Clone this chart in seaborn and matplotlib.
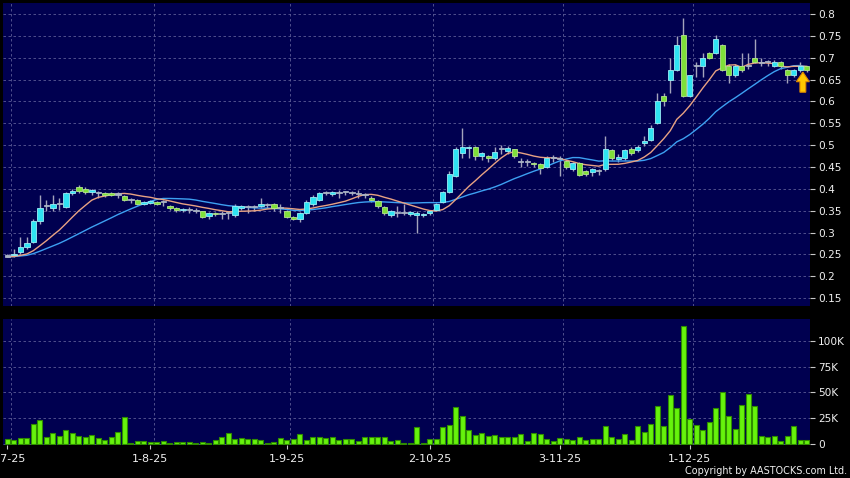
import numpy as np
import pandas as pd
import matplotlib
matplotlib.use("Agg")
import matplotlib.pyplot as plt
import seaborn as sns
from matplotlib.patches import FancyArrow

# ---------------- data ----------------
opens = [0.245, 0.248, 0.255, 0.267, 0.278, 0.326, 0.360, 0.356, 0.365, 0.358,
         0.390, 0.405, 0.400, 0.393, 0.390, 0.390, 0.390, 0.387, 0.383, 0.375,
         0.374, 0.366, 0.368, 0.370, 0.370, 0.360, 0.356, 0.352, 0.352, 0.350,
         0.349, 0.338, 0.345, 0.343, 0.345, 0.340, 0.357, 0.358, 0.358, 0.360,
         0.362, 0.365, 0.357, 0.350, 0.335, 0.331, 0.345, 0.365, 0.374, 0.390,
         0.388, 0.390, 0.392, 0.390, 0.388, 0.385, 0.380, 0.372, 0.358, 0.340,
         0.345, 0.345, 0.342, 0.340, 0.340, 0.345, 0.352, 0.370, 0.392, 0.430,
         0.482, 0.493, 0.495, 0.475, 0.475, 0.470, 0.490, 0.487, 0.490, 0.462,
         0.462, 0.458, 0.456, 0.450, 0.470, 0.468, 0.463, 0.445, 0.460, 0.440,
         0.438, 0.440, 0.445, 0.488, 0.468, 0.470, 0.490, 0.488, 0.505, 0.511,
         0.550, 0.612, 0.650, 0.672, 0.752, 0.612, 0.680, 0.680, 0.710, 0.710,
         0.730, 0.680, 0.660, 0.682, 0.680, 0.700, 0.688, 0.690, 0.680, 0.690,
         0.672, 0.660, 0.672, 0.680]
highs = [0.250, 0.262, 0.290, 0.290, 0.330, 0.386, 0.375, 0.385, 0.380, 0.393,
         0.400, 0.408, 0.405, 0.400, 0.395, 0.392, 0.392, 0.392, 0.385, 0.380,
         0.376, 0.372, 0.375, 0.372, 0.375, 0.362, 0.358, 0.357, 0.358, 0.356,
         0.350, 0.348, 0.347, 0.350, 0.350, 0.365, 0.362, 0.362, 0.362, 0.380,
         0.368, 0.367, 0.365, 0.352, 0.337, 0.347, 0.375, 0.385, 0.392, 0.395,
         0.395, 0.397, 0.395, 0.395, 0.397, 0.390, 0.383, 0.375, 0.360, 0.352,
         0.360, 0.365, 0.350, 0.350, 0.345, 0.352, 0.368, 0.395, 0.440, 0.495,
         0.540, 0.497, 0.497, 0.485, 0.478, 0.495, 0.500, 0.497, 0.492, 0.470,
         0.468, 0.462, 0.460, 0.475, 0.477, 0.475, 0.465, 0.462, 0.462, 0.442,
         0.448, 0.445, 0.520, 0.490, 0.480, 0.490, 0.495, 0.500, 0.520, 0.545,
         0.620, 0.620, 0.700, 0.750, 0.790, 0.660, 0.690, 0.710, 0.712, 0.752,
         0.732, 0.685, 0.685, 0.710, 0.710, 0.742, 0.700, 0.695, 0.695, 0.692,
         0.675, 0.675, 0.690, 0.682]
lows = [0.243, 0.245, 0.250, 0.262, 0.275, 0.320, 0.350, 0.350, 0.352, 0.355,
        0.385, 0.390, 0.388, 0.385, 0.380, 0.382, 0.384, 0.378, 0.372, 0.368,
        0.362, 0.362, 0.365, 0.362, 0.360, 0.352, 0.348, 0.348, 0.345, 0.344,
        0.333, 0.332, 0.338, 0.330, 0.330, 0.335, 0.352, 0.345, 0.350, 0.355,
        0.355, 0.350, 0.345, 0.333, 0.328, 0.325, 0.343, 0.360, 0.372, 0.385,
        0.383, 0.380, 0.385, 0.385, 0.380, 0.378, 0.370, 0.355, 0.340, 0.335,
        0.335, 0.340, 0.338, 0.300, 0.335, 0.340, 0.350, 0.368, 0.390, 0.428,
        0.470, 0.470, 0.465, 0.465, 0.462, 0.465, 0.480, 0.480, 0.470, 0.450,
        0.452, 0.450, 0.435, 0.448, 0.462, 0.430, 0.445, 0.440, 0.430, 0.430,
        0.430, 0.432, 0.440, 0.465, 0.462, 0.465, 0.478, 0.485, 0.498, 0.510,
        0.548, 0.590, 0.620, 0.670, 0.610, 0.610, 0.655, 0.655, 0.698, 0.708,
        0.670, 0.642, 0.655, 0.668, 0.675, 0.688, 0.680, 0.680, 0.678, 0.675,
        0.642, 0.655, 0.668, 0.668]
closes = [0.245, 0.250, 0.268, 0.276, 0.326, 0.356, 0.360, 0.365, 0.365, 0.390,
          0.395, 0.395, 0.392, 0.397, 0.390, 0.387, 0.387, 0.387, 0.375, 0.375,
          0.366, 0.370, 0.372, 0.365, 0.370, 0.356, 0.352, 0.354, 0.352, 0.350,
          0.336, 0.345, 0.342, 0.343, 0.345, 0.360, 0.360, 0.358, 0.358, 0.365,
          0.362, 0.356, 0.357, 0.336, 0.331, 0.345, 0.370, 0.381, 0.390, 0.390,
          0.392, 0.390, 0.392, 0.390, 0.388, 0.385, 0.375, 0.360, 0.345, 0.350,
          0.345, 0.345, 0.346, 0.345, 0.342, 0.350, 0.365, 0.392, 0.435, 0.490,
          0.495, 0.495, 0.475, 0.482, 0.470, 0.484, 0.490, 0.493, 0.475, 0.462,
          0.462, 0.456, 0.448, 0.470, 0.470, 0.468, 0.450, 0.460, 0.432, 0.435,
          0.445, 0.440, 0.490, 0.470, 0.472, 0.488, 0.482, 0.495, 0.510, 0.540,
          0.600, 0.600, 0.672, 0.730, 0.612, 0.660, 0.680, 0.700, 0.700, 0.743,
          0.672, 0.660, 0.680, 0.672, 0.680, 0.690, 0.688, 0.690, 0.690, 0.680,
          0.660, 0.672, 0.680, 0.672]
volumes_k = [4.5, 4, 6, 6, 19, 23, 6.5, 10.5, 7.5, 13.5,
             10.5, 8, 6.5, 8.5, 6, 4, 7, 11.5, 26, 1,
             2.5, 2.5, 1.5, 2, 2.5, 1, 2, 2, 2, 1,
             2, 1, 4, 7, 10.5, 5, 5.5, 4.5, 4.5, 4,
             1, 2, 6, 3.5, 4.5, 9.5, 4, 7, 7, 6,
             6.5, 4, 5, 5, 3, 6.5, 6.5, 7, 7, 2.5,
             4, 1, 1, 16, 1, 5, 4.5, 16, 18.5, 35.5,
             27, 13.5, 8.5, 11, 7.5, 8.5, 7, 7, 7, 9.5,
             3, 10.5, 9.5, 5, 2.5, 5.5, 5, 4, 7, 4,
             5, 5, 17, 7, 5, 9.5, 3.5, 17, 11.5, 19.5,
             37, 17, 47.5, 34.5, 115, 24.5, 18, 14, 21.5, 34.5,
             50, 27.5, 14.5, 37.5, 48.5, 36.5, 7.5, 6.5, 7.5, 2.5,
             7.5, 17.5, 4, 4]
# closes of the sessions just before the first visible day (estimated level)
pre_closes = [0.250, 0.245, 0.245, 0.250, 0.245, 0.240, 0.245, 0.245, 0.250, 0.245,
              0.245, 0.240, 0.245, 0.250, 0.245, 0.245, 0.240, 0.245, 0.245]

tick_idx = [0, 22, 43, 65, 85, 105]
tick_labels = ["2-7-25", "1-8-25", "1-9-25", "2-10-25", "3-11-25", "1-12-25"]
price_ticks = [0.15, 0.2, 0.25, 0.3, 0.35, 0.4, 0.45, 0.5, 0.55, 0.6, 0.65, 0.7, 0.75, 0.8]
vol_ticks = [0, 25000, 50000, 75000, 100000]
vol_tick_labels = ["0", "25K", "50K", "75K", "100K"]
copyright_text = "Copyright by AASTOCKS.com Ltd."

# ---------------- derived frame ----------------
n = len(closes)
df = pd.DataFrame({"idx": np.arange(n), "open": opens, "high": highs,
                   "low": lows, "close": closes,
                   "volume": np.array(volumes_k) * 1000})
full = pd.Series(pre_closes + closes)
df["ma10"] = full.rolling(10, min_periods=1).mean().iloc[len(pre_closes):].values
df["ma20"] = full.rolling(20, min_periods=1).mean().iloc[len(pre_closes):].values

# ---------------- style ----------------
BG_FIG = "black"
BG_AX = "#000050"
GRID = "#5c5c96"
UP_FC, UP_EC = "#2fe3f2", "#9aeef6"
DN_FC, DN_EC = "#7fe03a", "#b4e68a"
DOJI = "#a9b4c4"
WICK = "#a4a4bc"
MA10_C = "#e8a283"
MA20_C = "#3da0f2"
VOL_FC, VOL_EC = "#66f20c", "#2f8c00"
TXT = "#f0f0f0"

W, H = 850, 478
fig = plt.figure(figsize=(W / 100, H / 100), dpi=100, facecolor=BG_FIG)
ax1 = fig.add_axes([3 / W, 1 - 306 / H, 807 / W, 303 / H])
ax2 = fig.add_axes([3 / W, 1 - 445 / H, 807 / W, 126 / H])

for ax in (ax1, ax2):
    ax.set_facecolor(BG_AX)
    for s in ax.spines.values():
        s.set_visible(False)

# ---------------- candles ----------------
body_bottom = np.minimum(df["open"], df["close"])
body_h = np.maximum(np.abs(df["close"] - df["open"]), 0.0025)
up = df["close"] > df["open"]
down = df["close"] < df["open"]
fcs = np.where(up, UP_FC, np.where(down, DN_FC, DOJI))
ecs = np.where(up, UP_EC, np.where(down, DN_EC, DOJI))

ax1.vlines(df["idx"], df["low"], df["high"], color=WICK, linewidth=1.0, zorder=2)
sns.lineplot(data=df, x="idx", y="ma20", color=MA20_C, linewidth=1.0, ax=ax1, zorder=3)
sns.lineplot(data=df, x="idx", y="ma10", color=MA10_C, linewidth=1.0, ax=ax1, zorder=3)
ax1.bar(df["idx"], body_h, bottom=body_bottom, width=0.84, color=fcs,
        edgecolor=ecs, linewidth=0.6, zorder=4)

# arrow marking the latest session
ax1.add_patch(FancyArrow(n - 1.6, df["low"].iloc[-1] - 0.047, 0, 0.046,
                         width=0.9, head_width=2.0, head_length=0.022,
                         length_includes_head=True, fc="#ffc800", ec="#e08a00",
                         linewidth=0.8, zorder=6))

# ---------------- volume ----------------
sns.barplot(data=df, x="idx", y="volume", native_scale=True, color=VOL_FC,
            saturation=1, edgecolor=VOL_EC, linewidth=0.8, width=0.82,
            errorbar=None, ax=ax2, zorder=3)

# ---------------- axes ----------------
xlim = (-0.66, n - 0.5)
for ax in (ax1, ax2):
    ax.set_xlim(*xlim)
    ax.set_xlabel("")
    ax.set_ylabel("")
    ax.yaxis.tick_right()
    ax.set_xticks([i + 0.5 for i in tick_idx], minor=True)
    ax.grid(which="minor", axis="x", color=GRID, linestyle=(0, (3, 3)), linewidth=0.6, zorder=0)
    ax.grid(which="major", axis="y", color=GRID, linestyle=(0, (3, 3)), linewidth=0.6, zorder=0)
    ax.set_axisbelow(True)
    ax.tick_params(axis="y", which="both", colors="#c8c8c8", labelcolor=TXT,
                   length=3.5, width=0.8, pad=2.5, labelsize=7.6, direction="out")
    ax.tick_params(axis="x", which="minor", length=0)

ax1.set_ylim(0.132, 0.825)
ax1.set_yticks(price_ticks, [f"{v:g}" for v in price_ticks])
ax1.set_xticks(tick_idx, [""] * len(tick_idx))
ax1.tick_params(axis="x", which="major", length=0)

ax2.set_ylim(-1000, 121400)
ax2.set_yticks(vol_ticks, vol_tick_labels)
ax2.set_xticks(tick_idx, tick_labels)
ax2.tick_params(axis="x", which="major", colors="#c8c8c8", labelcolor=TXT,
                length=3, width=0.8, pad=3.5, labelsize=8)

fig.text(847 / W, 1 - 471 / H, copyright_text, ha="right", va="center",
         color=TXT, fontsize=6.9)

fig.savefig("out.png", dpi=100, facecolor=BG_FIG)
